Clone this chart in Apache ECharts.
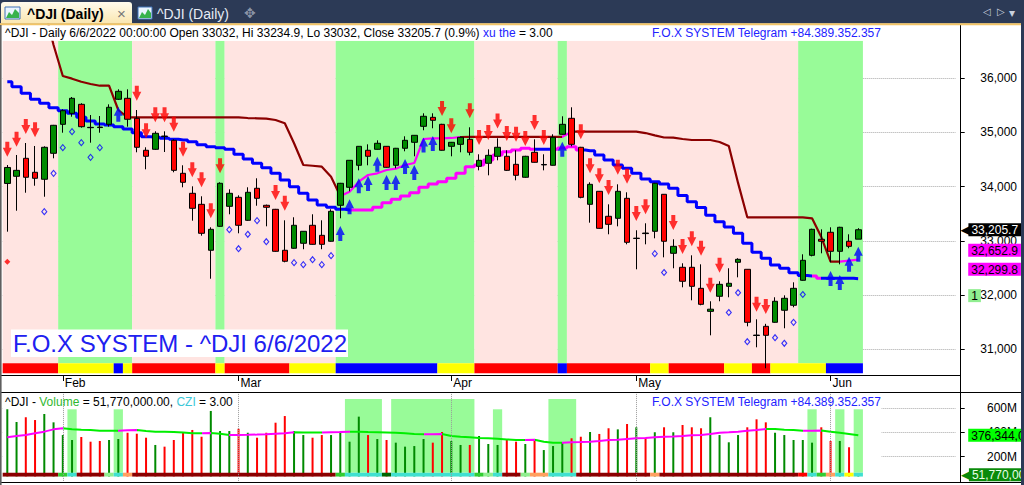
<!DOCTYPE html>
<html>
<head>
<meta charset="utf-8">
<title>^DJI (Daily)</title>
<script src="https://cdn.jsdelivr.net/npm/echarts@6/dist/echarts.min.js"></script>
<style>
html,body{margin:0;padding:0;background:#fff;overflow:hidden}
#chart{width:1024px;height:485px}
</style>
</head>
<body>
<div id="chart"></div>
<script>
// ---------------- data ----------------
const dates = [
'2022-01-24','2022-01-25','2022-01-26','2022-01-27','2022-01-28','2022-01-31',
'2022-02-01','2022-02-02','2022-02-03','2022-02-04','2022-02-07','2022-02-08','2022-02-09','2022-02-10','2022-02-11','2022-02-14','2022-02-15','2022-02-16','2022-02-17','2022-02-18','2022-02-22','2022-02-23','2022-02-24','2022-02-25','2022-02-28',
'2022-03-01','2022-03-02','2022-03-03','2022-03-04','2022-03-07','2022-03-08','2022-03-09','2022-03-10','2022-03-11','2022-03-14','2022-03-15','2022-03-16','2022-03-17','2022-03-18','2022-03-21','2022-03-22','2022-03-23','2022-03-24','2022-03-25','2022-03-28','2022-03-29','2022-03-30','2022-03-31',
'2022-04-01','2022-04-04','2022-04-05','2022-04-06','2022-04-07','2022-04-08','2022-04-11','2022-04-12','2022-04-13','2022-04-14','2022-04-18','2022-04-19','2022-04-20','2022-04-21','2022-04-22','2022-04-25','2022-04-26','2022-04-27','2022-04-28','2022-04-29',
'2022-05-02','2022-05-03','2022-05-04','2022-05-05','2022-05-06','2022-05-09','2022-05-10','2022-05-11','2022-05-12','2022-05-13','2022-05-16','2022-05-17','2022-05-18','2022-05-19','2022-05-20','2022-05-23','2022-05-24','2022-05-25','2022-05-26','2022-05-27','2022-05-31',
'2022-06-01','2022-06-02','2022-06-03','2022-06-06'];

const open = [34060,34192,34524,34266,34137,34616,35151,35354,35520,35095,
35100,35151,35613,35631,35262,34672,34690,34935,34856,34247,
33878,33675,32827,33269,33638,33804,33380,33971,33657,33583,
32827,32864,32956,33288,33103,32993,33657,33989,34395,34672,
34690,34745,34395,34709,34819,35114,35280,35151,34745,34782,
34874,34376,34432,34561,34561,34413,34174,34635,34402,34395,
34967,35262,34727,33675,33915,33454,33417,33786,33045,33145,
33177,33860,32771,32513,32513,32125,31700,31978,32162,32605,
32476,31262,31424,31498,31720,31812,32273,32734,33030,33159,
32808,32993,33032];
const high = [34400,34585,34806,34751,34745,35140,35428,35655,35540,35323,
35304,35520,35797,35797,35415,34727,35022,35022,34875,34395,
34007,33823,33251,34081,33952,33841,33989,34155,33670,33590,
33380,33436,33180,33491,33380,33583,34070,34490,34750,34782,
34856,34750,34715,34930,34950,35354,35354,35160,34825,34930,
35096,34598,34690,34893,34672,34672,34570,34874,34598,34967,
35299,35465,34735,34081,33920,33675,34044,33897,33196,33325,
34070,33865,33030,32587,32734,32568,31886,32255,32495,32680,
32480,31553,31470,31960,31996,32236,32753,33225,33214,33251,
33260,33122,33234.9];
const low = [33170,33557,33889,34018,33815,34524,34996,35292,35089,34812,
34996,35107,35600,35107,34635,34321,34680,34640,34266,33989,
33373,33096,32302,33260,33491,33140,33370,33649,33269,32800,
32605,32855,32846,32930,32846,32985,33417,33915,34302,34395,
34685,34350,34340,34653,34561,35041,35078,34665,34561,34635,
34579,34302,34210,34487,34290,34118,34165,34445,34302,34390,
34960,34745,33786,33336,33225,33122,33269,32937,32476,32937,
33048,32697,32495,32144,31904,31812,31258,31886,31960,32328,
31424,31037,30650,31490,31388,31775,32265,32715,32771,32605,
32568,32864,33032];
const close = [34355,34302,34174,34155,34727,35133,35402,35631,35107,35089,
35091,35465,35760,35244,34727,34561,34985,34925,34302,34081,
33601,33140,33214,34063,33878,33288,33897,33786,33620,32808,
32624,33288,33177,32937,32937,33546,34063,34487,34745,34561,
34801,34358,34709,34856,34948,35299,35225,34672,34819,34911,
34635,34487,34579,34727,34302,34210,34561,34450,34410,34911,
35151,34782,33804,34044,33232,33306,33915,32974,33050,33135,
34063,32993,32900,32255,32162,31830,31740,32199,32218,32660,
31498,31255,31258,31886,31941,32125,32642,33214,32993,32808,
33251,32900,33205.7];

// volume, millions of shares
const volume = [592,487,526,503,553,484,379,338,363,324,
330,338,346,398,390,357,297,283,338,398,
421,365,578,412,412,431,398,357,398,481,
536,412,379,357,379,379,407,324,531,379,
346,338,316,283,288,346,316,404,330,297,
297,371,305,297,341,324,305,338,255,288,
319,352,365,404,388,435,426,470,443,355,
402,443,402,462,443,435,526,379,319,379,
443,509,484,398,379,338,338,316,443,330,
330,278,51.77];
const volumeMA = [360,371,379,393,407,426,435,426,423,421,
415,415,415,418,421,412,407,407,404,400,
394,394,396,390,379,380,381,383,386,390,
394,402,400,400,400,402,404,407,407,404,
402,400,398,393,388,385,386,388,371,365,
360,355,352,349,343,338,338,340,324,316,
316,319,321,324,330,338,340,346,352,355,
360,365,367,371,377,379,388,398,402,407,
415,421,429,428,423,421,414,415,416,407,
398,388,376.344];

// trailing stops
const fastStop = [37300,37300,37300,37300,37300,36614,36042,35993,35937,35895,
35863,35863,35415,35280,35280,35280,35280,35280,35280,35280,
35280,35280,35280,35280,35280,35280,35267,35262,35255,35231,
35170,34801,34400,34387,34369,34184,33830,33908,34092,34216,
34247,34308,34332,34400,34437,34880,34893,34893,34899,34917,
34920,34920,34920,34920,34920,34920,34920,34920,34920,34920,
34920,35015,35015,35015,35015,35015,35015,35015,35015,34990,
34948,34908,34904,34880,34862,34862,34862,34825,34751,34070,
33435,33435,33435,33435,33435,33435,33435,33417,33070,32616,
32616,32635,32652.9];
const slowStop = [35937,35845,35723,35613,35539,35458,35402,35354,35280,35212,
35157,35138,35107,35065,34996,34923,34911,34893,34875,34862,
34830,34775,34738,34720,34690,34598,34511,34432,34351,34247,
34124,34000,33878,33755,33662,33620,33583,33570,33570,33570,
33620,33705,33768,33828,33889,33989,34050,34092,34155,34247,
34369,34400,34493,34585,34646,34677,34709,34690,34690,34690,
34714,34738,34677,34664,34585,34493,34400,34340,34247,34142,
34092,34050,33970,33838,33723,33616,33472,33354,33256,33140,
32956,32790,32679,32555,32494,32413,32362,32352,32310,32310,
32310,32310,32299.8];
const fastTrend = [[0,35,'dn'],[36,48,'up'],[49,59,'dn'],[60,60,'up'],[61,89,'dn'],[90,92,'up']];
const slowTrend = [[0,36,'dn'],[37,56,'up'],[57,58,'dn'],[59,61,'up'],[62,86,'dn'],[87,87,'up'],[88,91,'dn'],[92,92,'up']];

// background regime bands and signal strips (bar ranges)
const bandRuns = [[0,5,'P'],[6,13,'G'],[14,22,'P'],[23,23,'G'],[24,35,'P'],[36,50,'G'],[51,59,'P'],[60,60,'G'],[61,85,'P'],[86,92,'G']];
const signalRuns = [[0,5,'R'],[6,11,'Y'],[12,12,'B'],[13,13,'Y'],[14,22,'R'],[23,23,'Y'],[24,30,'R'],[31,35,'Y'],[36,46,'B'],[47,50,'Y'],[51,59,'R'],[60,60,'B'],[61,69,'R'],[70,71,'Y'],[72,77,'R'],[78,80,'Y'],[81,82,'R'],[83,88,'Y'],[89,92,'B']];
const volStripRuns = [[0,5,'DR'],[6,6,'G'],[7,7,'C'],[8,10,'DR'],[11,11,'LG'],[12,12,'C'],[13,13,'O'],[14,35,'DR'],[36,36,'G'],[37,40,'C'],[41,41,'DG'],[42,50,'C'],[51,51,'G'],[52,52,'LG'],[53,53,'C'],[54,55,'DR'],[56,56,'LG'],[57,58,'O'],[59,61,'C'],[62,69,'DR'],[70,70,'O'],[71,85,'DR'],[86,86,'R'],[87,87,'C'],[88,88,'G'],[89,89,'O'],[90,90,'C'],[91,91,'Y'],[92,92,'C']];
const cziRuns = [[7,7,1],[12,12,1],[37,40,2],[42,50,2],[53,53,1],[59,61,2],[87,87,1],[90,90,1],[92,92,1]];

// signals: [bar, price]
const sellArrows = [[0,34554],[1,34738],[2,34972],[3,34911],[14,35587],[15,34893],[16,35188],[17,35188],[18,35015],[19,34554],[20,34173],[21,33989],[22,33417],[23,34247],[29,33755],[30,33557],[47,35304],[48,34985],[50,35262],[51,34769],[52,34862],[53,35074],[54,34843],[55,34830],[56,34751],[57,35046],[58,34769],[62,34875],[63,34247],[64,34063],[65,33847],[66,34221],[67,34055],[68,33367],[69,33493],[72,33201],[73,32758],[74,32900],[75,32725],[76,32044],[77,32413],[81,31694],[82,31651]];
const buyArrows = [[12,35476],[36,33275],[37,33768],[38,34155],[39,34197],[40,34554],[41,34216],[42,34216],[43,34511],[44,34400],[45,34908],[46,34935],[60,34830],[89,32445],[90,32371],[91,32709],[92,32893]];
const diamonds = [[4,33539],[5,34247],[6,34720],[7,35015],[8,34812],[9,34542],[10,34720],[24,33207],[25,32856],[26,33122],[27,33373],[28,32985],[31,32598],[32,32561],[33,32653],[34,32561],[35,32727],[70,32764],[71,32417],[78,31679],[79,32044],[80,31140],[83,31214],[84,31111],[85,31498],[86,32011]];
const redDots = [[0,32616]];
const flagTag = {text: '1', level: 31990};
const paramValue = 3.00;

// ---------------- helpers ----------------
const FONT = '"Liberation Sans", Arial, sans-serif';
const MON = ['Jan','Feb','Mar','Apr','May','Jun','Jul','Aug','Sep','Oct','Nov','Dec'];
function fmtNum(v, dec) {
  const p = Number(v).toFixed(dec).split('.');
  p[0] = p[0].replace(/\B(?=(\d{3})+(?!\d))/g, ',');
  return p.join('.');
}
const N = dates.length;
const PAD = 10;
const cats = dates.concat(Array.from({length: PAD}, (_, k) => 'blank' + k));
const monthStart = cats.map((d, i) => i > 0 && i < N && d.slice(5, 7) !== cats[i - 1].slice(5, 7));
const isMonthStart = (i) => !!monthStart[i];

// layout
const GRID_L = 2.675, BAR_W = 9.25;
const GRID_W = BAR_W * cats.length;
const AXIS_X = 960.7;
const Y_OFF = AXIS_X - (GRID_L + GRID_W);
const P_TOP = 24.5, P_H = 350.5;
const V_TOP = 393, V_H = 87.9;

const COL = {
  P: '#ffe4e1', G: '#98fb98', R: '#ff0000', Y: '#ffff00', B: '#0000ff',
  DR: '#8b0000', C: '#40e0d0', LG: '#90ee90', O: '#ffa060', DG: '#006400'
};
const STRIP_G = '#32cd32';

function spanX(api, a, b) {
  const w = api.size([1, 0])[0];
  const x0 = api.coord([a, 0])[0] - w / 2;
  const x1 = api.coord([b, 0])[0] + w / 2;
  return [x0, x1 - x0];
}
function runSeries(runs, axisIdx, z, colorOf, top, bottom) {
  return {
    type: 'custom', xAxisIndex: axisIdx, yAxisIndex: axisIdx, z: z, silent: true,
    data: runs.map(r => [r[0], r[1]]),
    renderItem: function (params, api) {
      const r = runs[params.dataIndex];
      const cs = params.coordSys;
      const s = spanX(api, r[0], r[1]);
      const y0 = top(cs, r), y1 = bottom(cs, r);
      return {type: 'rect', shape: {x: s[0], y: y0, width: s[1], height: y1 - y0}, style: {fill: colorOf(r)}};
    }
  };
}
function piecesFromRuns(runs, colors, lo, hi) {
  return runs.map(r => ({gte: r[0] + lo, lt: r[1] + hi, color: colors[r[2]]}));
}
const vmaPieces = [];
for (let i = 0; i < N; i++) {
  const rising = i === 0 ? true : volumeMA[i] > volumeMA[i - 1];
  vmaPieces.push({gte: i - 1, lt: i, color: rising ? '#ff00ff' : '#00ee00'});
}
vmaPieces.push({gte: N - 1, lt: N + 1, color: vmaPieces[N - 1].color});

const candleData = dates.map((d, i) => {
  const item = {value: [open[i], close[i], low[i], high[i]]};
  if (Math.abs(open[i] - close[i]) < 12) {
    item.itemStyle = {color: '#000', color0: '#000', borderColor: '#000', borderColor0: '#000'};
  }
  return item;
});
const volData = volume.map((v, i) => ({value: v, itemStyle: {color: close[i] >= open[i] ? '#008a00' : '#ff0000'}}));

const tagLabel = (text, bg, fg, dist, tip, dy) => ({
  show: true, opacity: 1, position: 'end', distance: dist, offset: [0, dy || 0],
  formatter: (tip ? '{t|\u25C0}' : '') + '{b|' + text + '}',
  rich: {
    t: {color: bg, fontSize: 13, fontFamily: '"DejaVu Sans", sans-serif', lineHeight: 14, padding: [0, -2, 0, 0]},
    b: {backgroundColor: bg, color: fg, fontSize: 12, fontFamily: FONT, lineHeight: 13, padding: [1, 3, 0, 3]}
  }
});
const hiddenLine = {width: 0, color: 'rgba(0,0,0,0)'};

const DOWN = 'path://M2.5,0L6.5,0L6.5,6L9,6L4.5,15L0,6L2.5,6Z';
const UP = 'path://M4.5,0L9,9L6.5,9L6.5,15L2.5,15L2.5,9L0,9Z';

const last = N - 1;
const d = dates[last].split('-');
const titleDate = (+d[1]) + '/' + (+d[2]) + '/' + d[0];
const pct = (close[last] / close[last - 1] - 1) * 100;
const titleMain = '^DJI - Daily ' + titleDate + ' 00:00:00 Open ' + open[last] + ', Hi ' + high[last] +
  ', Lo ' + low[last] + ', Close ' + close[last] + ' (' + pct.toFixed(1) + '%) ';
const telegram = 'F.O.X SYSTEM Telegram +84.389.352.357';

const NAVY = '#2c3a56';
const graphicEls = [
  {type: 'rect', z: 100, silent: true, shape: {x: 0, y: 0, width: 1024, height: 23.5}, style: {fill: NAVY}},
  {type: 'rect', z: 101, silent: true, shape: {x: 1, y: 2, width: 131, height: 21.5, r: [3, 3, 0, 0]},
    style: {fill: {type: 'linear', x: 0, y: 0, x2: 0, y2: 1, colorStops: [{offset: 0, color: '#fffbee'}, {offset: 1, color: '#fae6b0'}]}}},
  {type: 'rect', z: 102, silent: true, shape: {x: 5, y: 7, width: 15, height: 12}, style: {fill: '#eaf4ff', stroke: '#3f72b8', lineWidth: 1}},
  {type: 'polygon', z: 103, silent: true, shape: {points: [[6, 18], [9, 12], [12, 15], [15, 9], [19, 13], [19, 18]]}, style: {fill: '#37b24d'}},
  {type: 'text', z: 102, silent: true, x: 27, y: 13.5, style: {text: '^DJI (Daily)', font: 'bold 14px ' + FONT, fill: '#000', verticalAlign: 'middle'}},
  {type: 'text', z: 102, silent: true, x: 117, y: 13, style: {text: '\u00D7', font: '15px ' + FONT, fill: '#777', verticalAlign: 'middle'}},
  {type: 'rect', z: 102, silent: true, shape: {x: 138, y: 7, width: 14, height: 12}, style: {fill: '#eaf4ff', stroke: '#3f72b8', lineWidth: 1}},
  {type: 'polygon', z: 103, silent: true, shape: {points: [[139, 18], [142, 12], [145, 15], [148, 9], [151, 13], [151, 18]]}, style: {fill: '#37b24d'}},
  {type: 'text', z: 102, silent: true, x: 157, y: 13.5, style: {text: '^DJI (Daily)', font: '14px ' + FONT, fill: '#e6ecf5', verticalAlign: 'middle'}},
  {type: 'text', z: 102, silent: true, x: 244, y: 13, style: {text: '\u2725', font: '14px "DejaVu Sans", sans-serif', fill: '#8a93a6', verticalAlign: 'middle'}},
  {type: 'text', z: 102, silent: true, x: 983, y: 11, style: {text: '\u25C1', font: '10px "DejaVu Sans", sans-serif', fill: '#c8d0de', verticalAlign: 'middle'}},
  {type: 'text', z: 102, silent: true, x: 997, y: 11, style: {text: '\u25B7', font: '10px "DejaVu Sans", sans-serif', fill: '#c8d0de', verticalAlign: 'middle'}},
  {type: 'text', z: 102, silent: true, x: 1009, y: 13, style: {text: '\u25BE', font: '12px "DejaVu Sans", sans-serif', fill: '#c8d0de', verticalAlign: 'middle'}},
  {type: 'rect', z: 104, silent: true, shape: {x: 0, y: 23.3, width: 1024, height: 2}, style: {fill: '#f2c466'}},
  // title row cover
  {type: 'rect', z: 50, silent: true, shape: {x: 2, y: 25.3, width: 958, height: 15.4}, style: {fill: '#fff'}},
  // pane frame lines
  {type: 'line', z: 90, silent: true, shape: {x1: 960.5, y1: 25, x2: 960.5, y2: 483}, style: {stroke: '#000', lineWidth: 1}},
  {type: 'line', z: 90, silent: true, shape: {x1: 0, y1: 375.5, x2: 961, y2: 375.5}, style: {stroke: '#000', lineWidth: 1}},
  {type: 'line', z: 90, silent: true, shape: {x1: 0, y1: 392.5, x2: 1021, y2: 392.5}, style: {stroke: '#000', lineWidth: 1}},
  {type: 'line', z: 90, silent: true, shape: {x1: 0, y1: 482.5, x2: 1021, y2: 482.5}, style: {stroke: '#000', lineWidth: 1}},
  {type: 'rect', z: 120, silent: true, shape: {x: 0, y: 25, width: 1.6, height: 460}, style: {fill: '#5f5f5f'}},
  {type: 'rect', z: 120, silent: true, shape: {x: 1021, y: 0, width: 3, height: 485}, style: {fill: NAVY}},
  // titles
  {type: 'text', z: 110, silent: true, x: 5, y: 33, style: {
    text: titleMain + '{b|xu the}' + ' = ' + paramValue.toFixed(2),
    font: '12px ' + FONT, fill: '#000', verticalAlign: 'middle',
    rich: {b: {fill: '#2222ff', font: '12px ' + FONT}}}},
  {type: 'text', z: 110, silent: true, x: 652, y: 33, style: {text: telegram, font: '12px ' + FONT, fill: '#2222ff', verticalAlign: 'middle'}},
  {type: 'text', z: 110, silent: true, x: 5, y: 402, style: {
    text: '^DJI - {g|Volume} = ' + fmtNum(volume[last] * 1e6, 2) + ', {c|CZI} = ' + paramValue.toFixed(2),
    font: '12px ' + FONT, fill: '#000', verticalAlign: 'middle',
    rich: {g: {fill: '#2fb82f', font: '12px ' + FONT}, c: {fill: '#3cc8d8', font: '12px ' + FONT}}}},
  {type: 'text', z: 110, silent: true, x: 652, y: 402, style: {text: telegram, font: '12px ' + FONT, fill: '#2222ff', verticalAlign: 'middle'}},
  // big label
  {type: 'rect', z: 60, silent: true, shape: {x: 11, y: 329.5, width: 337, height: 27.5}, style: {fill: '#fff'}},
  {type: 'text', z: 61, silent: true, x: 13, y: 343.5, style: {text: 'F.O.X SYSTEM - ^DJI ' + titleDate, font: '24px ' + FONT, fill: '#2020f0', verticalAlign: 'middle'}}
];

// ---------------- chart ----------------
const chart = echarts.init(document.getElementById('chart'), null, {renderer: 'svg', width: 1024, height: 485});
const option = {
  animation: false,
  backgroundColor: '#ffffff',
  textStyle: {fontFamily: FONT},
  grid: [
    {left: GRID_L, top: P_TOP, width: GRID_W, height: P_H, containLabel: false},
    {left: GRID_L, top: V_TOP, width: GRID_W, height: V_H, containLabel: false}
  ],
  xAxis: [
    {type: 'category', gridIndex: 0, data: cats, boundaryGap: true,
      axisLine: {show: false},
      axisTick: {show: true, interval: isMonthStart, alignWithLabel: true, length: 6, lineStyle: {color: '#000'}},
      axisLabel: {interval: isMonthStart, formatter: (v) => MON[+v.slice(5, 7) - 1], align: 'left', margin: 2,
        padding: [0, 0, 0, 2], color: '#000', fontSize: 12, fontFamily: FONT, hideOverlap: false},
      splitLine: {show: false}},
    {type: 'category', gridIndex: 1, data: cats, boundaryGap: true, show: false}
  ],
  yAxis: [
    {type: 'value', gridIndex: 0, position: 'right', offset: Y_OFF, min: 30525.8, max: 36992.6,
      minInterval: 1000, maxInterval: 1000,
      axisLine: {show: false},
      axisTick: {show: true, length: 4, lineStyle: {color: '#000'}},
      axisLabel: {color: '#000', fontSize: 12, fontFamily: FONT, align: 'right', margin: 56.3,
        showMinLabel: false, showMaxLabel: false, formatter: (v) => fmtNum(v, 0)},
      splitLine: {show: true, showMinLine: false, showMaxLine: false, lineStyle: {color: '#a8a8a8', type: 'dotted', width: 1}}},
    {type: 'value', gridIndex: 1, position: 'right', offset: Y_OFF, min: 0, max: 726.4,
      minInterval: 200, maxInterval: 200,
      axisLine: {show: false},
      axisTick: {show: true, length: 4, lineStyle: {color: '#000'}},
      axisLabel: {color: '#000', fontSize: 12, fontFamily: FONT, align: 'right', margin: 56.3,
        showMinLabel: false, showMaxLabel: false, formatter: (v) => v === 0 ? '' : v + 'M'},
      splitLine: {show: true, showMinLine: false, showMaxLine: false, lineStyle: {color: '#a8a8a8', type: 'dotted', width: 1}}}
  ],
  visualMap: [
    {type: 'piecewise', show: false, seriesIndex: 2, dimension: 0, pieces: piecesFromRuns(slowTrend, {dn: '#0000ff', up: '#ff00ff'}, -0.5, 0.5)},
    {type: 'piecewise', show: false, seriesIndex: 3, dimension: 0, pieces: piecesFromRuns(fastTrend, {dn: '#8b0000', up: '#ff00ff'}, 0, 1)},
    {type: 'piecewise', show: false, seriesIndex: 12, dimension: 0, pieces: vmaPieces}
  ],
  series: [
    // 0 regime bands
    runSeries(bandRuns, 0, 1, r => COL[r[2]], cs => cs.y + 16.2, cs => cs.y + cs.height - 11.7),
    // 1 signal strip
    runSeries(signalRuns, 0, 2, r => COL[r[2]], cs => cs.y + cs.height - 11.7, cs => cs.y + cs.height - 1.7),
    // 2 slow stop
    {type: 'line', xAxisIndex: 0, yAxisIndex: 0, z: 3, data: slowStop, step: 'middle', symbol: 'none', showSymbol: false,
      lineStyle: {width: 3}, silent: true},
    // 3 fast stop
    {type: 'line', xAxisIndex: 0, yAxisIndex: 0, z: 3, data: fastStop, symbol: 'none', showSymbol: false,
      lineStyle: {width: 2.2}, silent: true},
    // 4 candles
    {type: 'candlestick', xAxisIndex: 0, yAxisIndex: 0, z: 4, barWidth: 6, data: candleData, silent: true, clip: false,
      itemStyle: {color: '#008a00', color0: '#ff0000', borderColor: '#000', borderColor0: '#000', borderWidth: 1},
      markLine: {silent: true, symbol: 'none', animation: false, z: 8,
        data: [
          {yAxis: close[last], lineStyle: hiddenLine, label: tagLabel(fmtNum(close[last], 1), '#000', '#fff', 5, true)},
          {yAxis: fastStop[last], lineStyle: hiddenLine, label: tagLabel(fmtNum(fastStop[last], 1), '#ff00ff', '#000', 12.8, false, -9.5)},
          {yAxis: slowStop[last], lineStyle: hiddenLine, label: tagLabel(fmtNum(slowStop[last], 1), '#ff00ff', '#000', 12.8, false, -9.5)},
          {yAxis: flagTag.level, lineStyle: hiddenLine, label: tagLabel(flagTag.text, '#90ee90', '#000', 12.8, false)}
        ]}},
    // 5 sell arrows
    {type: 'scatter', xAxisIndex: 0, yAxisIndex: 0, z: 6, data: sellArrows, symbol: DOWN, symbolSize: [9, 15],
      symbolOffset: [0, -7.5], itemStyle: {color: '#ff0000'}, silent: true},
    // 6 buy arrows
    {type: 'scatter', xAxisIndex: 0, yAxisIndex: 0, z: 6, data: buyArrows, symbol: UP, symbolSize: [9, 15],
      symbolOffset: [0, 7.5], itemStyle: {color: '#0000ff'}, silent: true},
    // 7 hollow diamonds
    {type: 'scatter', xAxisIndex: 0, yAxisIndex: 0, z: 6, data: diamonds, symbol: 'diamond', symbolSize: [5, 6],
      itemStyle: {color: 'rgba(0,0,0,0)', borderColor: '#0000ff', borderWidth: 1.1}, silent: true},
    // 8 red dot
    {type: 'scatter', xAxisIndex: 0, yAxisIndex: 0, z: 6, data: redDots, symbol: 'diamond', symbolSize: [6, 6],
      itemStyle: {color: '#ff0000'}, silent: true},
    // 9 volume pane white cover
    runSeries([[0, N + 1]], 1, 1, () => '#ffffff', cs => cs.y, cs => cs.y + cs.height),
    // 10 czi bands
    runSeries(cziRuns, 1, 2, () => '#98fb98', (cs, r) => cs.y + (r[2] === 2 ? 6 : 16.3), cs => cs.y + cs.height - 8.2),
    // 11 volume bars
    {type: 'bar', xAxisIndex: 1, yAxisIndex: 1, z: 3, barWidth: 2, data: volData, silent: true, clip: false,
      markLine: {silent: true, symbol: 'none', animation: false, z: 8,
        data: cats.map((c, i) => i).filter(isMonthStart).map(i => ({xAxis: i, label: {show: false},
          lineStyle: {type: 'dotted', color: '#9a9a9a', width: 1}})).concat([
          {yAxis: volumeMA[last], lineStyle: hiddenLine, label: tagLabel(fmtNum(volumeMA[last] * 1e6, 0), '#00ff00', '#000', 12.8, false)},
          {yAxis: volume[last], lineStyle: hiddenLine, label: tagLabel(fmtNum(volume[last] * 1e6, 0), '#0a8a0a', '#e8ffe8', 5.5, true)}
        ])}},
    // 12 volume MA
    {type: 'line', xAxisIndex: 1, yAxisIndex: 1, z: 4, data: volumeMA, symbol: 'none', showSymbol: false,
      lineStyle: {width: 2}, silent: true},
    // 13 volume strip
    runSeries(volStripRuns, 1, 5, r => r[2] === 'G' ? STRIP_G : COL[r[2]], cs => cs.y + cs.height - 8.2, cs => cs.y + cs.height - 4.2),
    // 14 white under strip
    runSeries([[0, N + 1]], 1, 5, () => '#ffffff', cs => cs.y + cs.height - 4.2, cs => cs.y + cs.height + 1)
  ],
  graphic: {elements: graphicEls}
};
chart.setOption(option);
</script>
</body>
</html>
